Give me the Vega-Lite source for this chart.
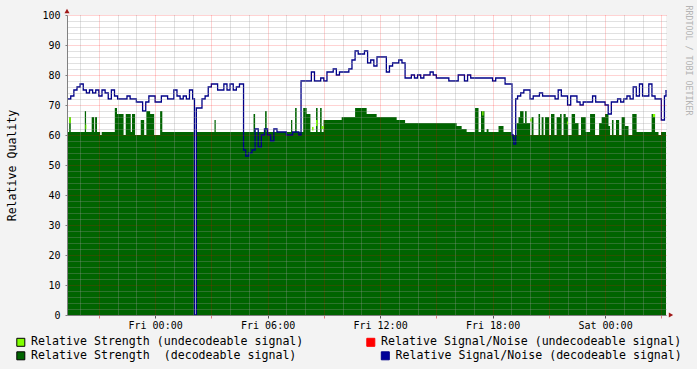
{
  "$schema": "https://vega.github.io/schema/vega-lite/v6.json",
  "width": 599,
  "height": 300,
  "autosize": {"type": "none"},
  "padding": {"left": 67, "top": 15, "right": 31, "bottom": 54},
  "background": "#f3f3f3",
  "datasets": {
    "strength": [
      {"t": "2009-01-01T19:18", "s": 61}, {"t": "2009-01-01T19:25", "s": 66}, {"t": "2009-01-01T19:30", "s": 61},
      {"t": "2009-01-01T20:15", "s": 68}, {"t": "2009-01-01T20:19", "s": 61}, {"t": "2009-01-01T20:37", "s": 66},
      {"t": "2009-01-01T20:45", "s": 61}, {"t": "2009-01-01T20:48", "s": 66}, {"t": "2009-01-01T20:54", "s": 61},
      {"t": "2009-01-01T21:04", "s": 60}, {"t": "2009-01-01T21:09", "s": 61}, {"t": "2009-01-01T21:51", "s": 69},
      {"t": "2009-01-01T21:58", "s": 67}, {"t": "2009-01-01T22:19", "s": 60}, {"t": "2009-01-01T22:26", "s": 67},
      {"t": "2009-01-01T22:42", "s": 61}, {"t": "2009-01-01T22:46", "s": 67}, {"t": "2009-01-01T22:56", "s": 60},
      {"t": "2009-01-01T23:14", "s": 65}, {"t": "2009-01-01T23:25", "s": 60}, {"t": "2009-01-01T23:32", "s": 68},
      {"t": "2009-01-01T23:44", "s": 67}, {"t": "2009-01-01T23:57", "s": 60}, {"t": "2009-01-02T00:16", "s": 68},
      {"t": "2009-01-02T00:23", "s": 61}, {"t": "2009-01-02T02:07", "s": 0}, {"t": "2009-01-02T02:12", "s": 61},
      {"t": "2009-01-02T03:10", "s": 65}, {"t": "2009-01-02T03:14", "s": 61}, {"t": "2009-01-02T05:15", "s": 67},
      {"t": "2009-01-02T05:20", "s": 61}, {"t": "2009-01-02T05:52", "s": 68}, {"t": "2009-01-02T05:57", "s": 61},
      {"t": "2009-01-02T07:15", "s": 65}, {"t": "2009-01-02T07:19", "s": 61}, {"t": "2009-01-02T07:28", "s": 69},
      {"t": "2009-01-02T07:33", "s": 61}, {"t": "2009-01-02T07:54", "s": 69}, {"t": "2009-01-02T08:05", "s": 67},
      {"t": "2009-01-02T08:17", "s": 61}, {"t": "2009-01-02T08:35", "s": 69}, {"t": "2009-01-02T08:40", "s": 61},
      {"t": "2009-01-02T08:48", "s": 69}, {"t": "2009-01-02T08:53", "s": 61}, {"t": "2009-01-02T08:59", "s": 65},
      {"t": "2009-01-02T09:57", "s": 66}, {"t": "2009-01-02T10:40", "s": 69}, {"t": "2009-01-02T11:17", "s": 67},
      {"t": "2009-01-02T11:49", "s": 66}, {"t": "2009-01-02T12:53", "s": 65}, {"t": "2009-01-02T13:20", "s": 64},
      {"t": "2009-01-02T16:05", "s": 63}, {"t": "2009-01-02T16:21", "s": 62}, {"t": "2009-01-02T16:37", "s": 61},
      {"t": "2009-01-02T17:04", "s": 69}, {"t": "2009-01-02T17:15", "s": 61}, {"t": "2009-01-02T17:23", "s": 68},
      {"t": "2009-01-02T17:34", "s": 61}, {"t": "2009-01-02T17:41", "s": 62}, {"t": "2009-01-02T17:47", "s": 61},
      {"t": "2009-01-02T18:19", "s": 63}, {"t": "2009-01-02T18:35", "s": 61}, {"t": "2009-01-02T19:01", "s": 60},
      {"t": "2009-01-02T19:17", "s": 64}, {"t": "2009-01-02T19:23", "s": 66}, {"t": "2009-01-02T19:28", "s": 68},
      {"t": "2009-01-02T19:39", "s": 64}, {"t": "2009-01-02T19:44", "s": 68}, {"t": "2009-01-02T19:49", "s": 64},
      {"t": "2009-01-02T20:00", "s": 60}, {"t": "2009-01-02T20:05", "s": 66}, {"t": "2009-01-02T20:11", "s": 60},
      {"t": "2009-01-02T20:27", "s": 67}, {"t": "2009-01-02T20:32", "s": 60}, {"t": "2009-01-02T20:37", "s": 66},
      {"t": "2009-01-02T20:43", "s": 60}, {"t": "2009-01-02T20:48", "s": 66}, {"t": "2009-01-02T21:01", "s": 60},
      {"t": "2009-01-02T21:07", "s": 67}, {"t": "2009-01-02T21:18", "s": 60}, {"t": "2009-01-02T21:25", "s": 66},
      {"t": "2009-01-02T21:36", "s": 67}, {"t": "2009-01-02T21:41", "s": 60}, {"t": "2009-01-02T21:47", "s": 67},
      {"t": "2009-01-02T21:54", "s": 66}, {"t": "2009-01-02T22:01", "s": 60}, {"t": "2009-01-02T22:13", "s": 67},
      {"t": "2009-01-02T22:24", "s": 64}, {"t": "2009-01-02T22:35", "s": 60}, {"t": "2009-01-02T22:43", "s": 66},
      {"t": "2009-01-02T22:58", "s": 61}, {"t": "2009-01-02T23:12", "s": 67}, {"t": "2009-01-02T23:28", "s": 60},
      {"t": "2009-01-02T23:41", "s": 64}, {"t": "2009-01-02T23:49", "s": 66}, {"t": "2009-01-03T00:00", "s": 67},
      {"t": "2009-01-03T00:11", "s": 63}, {"t": "2009-01-03T00:16", "s": 60}, {"t": "2009-01-03T00:22", "s": 65},
      {"t": "2009-01-03T00:27", "s": 60}, {"t": "2009-01-03T00:35", "s": 65}, {"t": "2009-01-03T00:45", "s": 60},
      {"t": "2009-01-03T00:53", "s": 66}, {"t": "2009-01-03T01:04", "s": 63}, {"t": "2009-01-03T01:15", "s": 60},
      {"t": "2009-01-03T01:27", "s": 67}, {"t": "2009-01-03T01:41", "s": 61}, {"t": "2009-01-03T02:29", "s": 67},
      {"t": "2009-01-03T02:40", "s": 61}, {"t": "2009-01-03T02:51", "s": 60}, {"t": "2009-01-03T02:59", "s": 61},
      {"t": "2009-01-03T03:15", "s": 61}
    ],
    "undec": [
      {"t": "2009-01-01T19:25", "t2": "2009-01-01T19:30", "lo": 64, "hi": 66},
      {"t": "2009-01-01T20:17", "t2": "2009-01-01T20:20", "lo": 62, "hi": 63.5},
      {"t": "2009-01-02T08:22", "t2": "2009-01-02T08:27", "lo": 61.5, "hi": 62.7},
      {"t": "2009-01-02T08:35", "t2": "2009-01-02T08:40", "lo": 63, "hi": 65},
      {"t": "2009-01-02T08:53", "t2": "2009-01-02T08:59", "lo": 62, "hi": 63},
      {"t": "2009-01-02T17:27", "t2": "2009-01-02T17:31", "lo": 66.5, "hi": 68},
      {"t": "2009-01-02T20:00", "t2": "2009-01-02T20:05", "lo": 64.5, "hi": 65.5},
      {"t": "2009-01-02T21:58", "t2": "2009-01-02T22:01", "lo": 63.5, "hi": 64.5},
      {"t": "2009-01-03T02:33", "t2": "2009-01-03T02:40", "lo": 66, "hi": 67}
    ],
    "sn": [
      {"t": "2009-01-01T19:18", "n": 72}, {"t": "2009-01-01T19:30", "n": 73}, {"t": "2009-01-01T19:40", "n": 75},
      {"t": "2009-01-01T19:50", "n": 76}, {"t": "2009-01-01T20:00", "n": 77}, {"t": "2009-01-01T20:10", "n": 75},
      {"t": "2009-01-01T20:20", "n": 74}, {"t": "2009-01-01T20:30", "n": 75}, {"t": "2009-01-01T20:40", "n": 74},
      {"t": "2009-01-01T20:50", "n": 75}, {"t": "2009-01-01T21:00", "n": 73}, {"t": "2009-01-01T21:10", "n": 75},
      {"t": "2009-01-01T21:20", "n": 74}, {"t": "2009-01-01T21:30", "n": 72}, {"t": "2009-01-01T21:40", "n": 75},
      {"t": "2009-01-01T21:50", "n": 73}, {"t": "2009-01-01T22:00", "n": 72}, {"t": "2009-01-01T22:10", "n": 72},
      {"t": "2009-01-01T22:20", "n": 72}, {"t": "2009-01-01T22:30", "n": 73}, {"t": "2009-01-01T22:40", "n": 72},
      {"t": "2009-01-01T22:50", "n": 72}, {"t": "2009-01-01T23:00", "n": 71}, {"t": "2009-01-01T23:10", "n": 71},
      {"t": "2009-01-01T23:20", "n": 68}, {"t": "2009-01-01T23:30", "n": 71}, {"t": "2009-01-01T23:40", "n": 73},
      {"t": "2009-01-01T23:50", "n": 73}, {"t": "2009-01-02T00:00", "n": 71}, {"t": "2009-01-02T00:10", "n": 71},
      {"t": "2009-01-02T00:20", "n": 73}, {"t": "2009-01-02T00:30", "n": 73}, {"t": "2009-01-02T00:40", "n": 72},
      {"t": "2009-01-02T00:50", "n": 72}, {"t": "2009-01-02T01:00", "n": 75}, {"t": "2009-01-02T01:10", "n": 73},
      {"t": "2009-01-02T01:20", "n": 72}, {"t": "2009-01-02T01:30", "n": 73}, {"t": "2009-01-02T01:40", "n": 72},
      {"t": "2009-01-02T01:50", "n": 75}, {"t": "2009-01-02T02:00", "n": 72}, {"t": "2009-01-02T02:06", "n": 0},
      {"t": "2009-01-02T02:12", "n": 69}, {"t": "2009-01-02T02:20", "n": 69}, {"t": "2009-01-02T02:30", "n": 72},
      {"t": "2009-01-02T02:40", "n": 73}, {"t": "2009-01-02T02:50", "n": 76}, {"t": "2009-01-02T03:00", "n": 77},
      {"t": "2009-01-02T03:10", "n": 77}, {"t": "2009-01-02T03:20", "n": 75}, {"t": "2009-01-02T03:30", "n": 75},
      {"t": "2009-01-02T03:40", "n": 77}, {"t": "2009-01-02T03:50", "n": 75}, {"t": "2009-01-02T04:00", "n": 77},
      {"t": "2009-01-02T04:10", "n": 75}, {"t": "2009-01-02T04:20", "n": 76}, {"t": "2009-01-02T04:30", "n": 77},
      {"t": "2009-01-02T04:40", "n": 77}, {"t": "2009-01-02T04:43", "n": 55}, {"t": "2009-01-02T04:50", "n": 53},
      {"t": "2009-01-02T05:00", "n": 54}, {"t": "2009-01-02T05:10", "n": 55}, {"t": "2009-01-02T05:20", "n": 62},
      {"t": "2009-01-02T05:30", "n": 56}, {"t": "2009-01-02T05:40", "n": 60}, {"t": "2009-01-02T05:50", "n": 62},
      {"t": "2009-01-02T06:00", "n": 60}, {"t": "2009-01-02T06:10", "n": 58}, {"t": "2009-01-02T06:20", "n": 62},
      {"t": "2009-01-02T06:30", "n": 61}, {"t": "2009-01-02T06:40", "n": 61}, {"t": "2009-01-02T06:50", "n": 61},
      {"t": "2009-01-02T07:00", "n": 60}, {"t": "2009-01-02T07:10", "n": 60}, {"t": "2009-01-02T07:20", "n": 61},
      {"t": "2009-01-02T07:30", "n": 61}, {"t": "2009-01-02T07:40", "n": 60}, {"t": "2009-01-02T07:47", "n": 78},
      {"t": "2009-01-02T07:50", "n": 78}, {"t": "2009-01-02T08:00", "n": 78}, {"t": "2009-01-02T08:10", "n": 78},
      {"t": "2009-01-02T08:20", "n": 81}, {"t": "2009-01-02T08:30", "n": 78}, {"t": "2009-01-02T08:40", "n": 78},
      {"t": "2009-01-02T08:50", "n": 79}, {"t": "2009-01-02T09:00", "n": 78}, {"t": "2009-01-02T09:10", "n": 81},
      {"t": "2009-01-02T09:20", "n": 81}, {"t": "2009-01-02T09:30", "n": 82}, {"t": "2009-01-02T09:40", "n": 80},
      {"t": "2009-01-02T09:50", "n": 81}, {"t": "2009-01-02T10:00", "n": 81}, {"t": "2009-01-02T10:10", "n": 81},
      {"t": "2009-01-02T10:20", "n": 82}, {"t": "2009-01-02T10:30", "n": 85}, {"t": "2009-01-02T10:40", "n": 88},
      {"t": "2009-01-02T10:50", "n": 87}, {"t": "2009-01-02T11:00", "n": 87}, {"t": "2009-01-02T11:10", "n": 88},
      {"t": "2009-01-02T11:20", "n": 84}, {"t": "2009-01-02T11:30", "n": 85}, {"t": "2009-01-02T11:40", "n": 83},
      {"t": "2009-01-02T11:50", "n": 86}, {"t": "2009-01-02T12:00", "n": 86}, {"t": "2009-01-02T12:10", "n": 86},
      {"t": "2009-01-02T12:20", "n": 81}, {"t": "2009-01-02T12:30", "n": 83}, {"t": "2009-01-02T12:40", "n": 84},
      {"t": "2009-01-02T12:50", "n": 84}, {"t": "2009-01-02T13:00", "n": 85}, {"t": "2009-01-02T13:10", "n": 84},
      {"t": "2009-01-02T13:20", "n": 79}, {"t": "2009-01-02T13:30", "n": 79}, {"t": "2009-01-02T13:40", "n": 80},
      {"t": "2009-01-02T13:50", "n": 79}, {"t": "2009-01-02T14:00", "n": 80}, {"t": "2009-01-02T14:10", "n": 79},
      {"t": "2009-01-02T14:20", "n": 80}, {"t": "2009-01-02T14:30", "n": 80}, {"t": "2009-01-02T14:40", "n": 81},
      {"t": "2009-01-02T14:50", "n": 80}, {"t": "2009-01-02T15:00", "n": 79}, {"t": "2009-01-02T15:10", "n": 79},
      {"t": "2009-01-02T15:20", "n": 79}, {"t": "2009-01-02T15:30", "n": 79}, {"t": "2009-01-02T15:40", "n": 78},
      {"t": "2009-01-02T15:50", "n": 78}, {"t": "2009-01-02T16:00", "n": 78}, {"t": "2009-01-02T16:10", "n": 80},
      {"t": "2009-01-02T16:20", "n": 80}, {"t": "2009-01-02T16:30", "n": 78}, {"t": "2009-01-02T16:40", "n": 80},
      {"t": "2009-01-02T16:50", "n": 79}, {"t": "2009-01-02T17:00", "n": 79}, {"t": "2009-01-02T17:10", "n": 79},
      {"t": "2009-01-02T17:20", "n": 79}, {"t": "2009-01-02T17:30", "n": 79}, {"t": "2009-01-02T17:40", "n": 79},
      {"t": "2009-01-02T17:50", "n": 79}, {"t": "2009-01-02T18:00", "n": 78}, {"t": "2009-01-02T18:10", "n": 79},
      {"t": "2009-01-02T18:20", "n": 79}, {"t": "2009-01-02T18:30", "n": 79}, {"t": "2009-01-02T18:40", "n": 77},
      {"t": "2009-01-02T18:50", "n": 77}, {"t": "2009-01-02T19:00", "n": 77}, {"t": "2009-01-02T19:02", "n": 60},
      {"t": "2009-01-02T19:06", "n": 59}, {"t": "2009-01-02T19:08", "n": 57}, {"t": "2009-01-02T19:14", "n": 72},
      {"t": "2009-01-02T19:20", "n": 73}, {"t": "2009-01-02T19:30", "n": 74}, {"t": "2009-01-02T19:40", "n": 75},
      {"t": "2009-01-02T19:50", "n": 75}, {"t": "2009-01-02T20:00", "n": 72}, {"t": "2009-01-02T20:10", "n": 73},
      {"t": "2009-01-02T20:20", "n": 73}, {"t": "2009-01-02T20:30", "n": 74}, {"t": "2009-01-02T20:40", "n": 73},
      {"t": "2009-01-02T20:50", "n": 73}, {"t": "2009-01-02T21:00", "n": 73}, {"t": "2009-01-02T21:10", "n": 73},
      {"t": "2009-01-02T21:20", "n": 72}, {"t": "2009-01-02T21:30", "n": 75}, {"t": "2009-01-02T21:40", "n": 73},
      {"t": "2009-01-02T21:50", "n": 73}, {"t": "2009-01-02T22:00", "n": 70}, {"t": "2009-01-02T22:10", "n": 73},
      {"t": "2009-01-02T22:20", "n": 73}, {"t": "2009-01-02T22:30", "n": 71}, {"t": "2009-01-02T22:40", "n": 70},
      {"t": "2009-01-02T22:50", "n": 71}, {"t": "2009-01-02T23:00", "n": 71}, {"t": "2009-01-02T23:10", "n": 71},
      {"t": "2009-01-02T23:20", "n": 73}, {"t": "2009-01-02T23:30", "n": 71}, {"t": "2009-01-02T23:40", "n": 71},
      {"t": "2009-01-02T23:50", "n": 71}, {"t": "2009-01-03T00:00", "n": 70}, {"t": "2009-01-03T00:10", "n": 67},
      {"t": "2009-01-03T00:20", "n": 71}, {"t": "2009-01-03T00:30", "n": 71}, {"t": "2009-01-03T00:40", "n": 72},
      {"t": "2009-01-03T00:50", "n": 71}, {"t": "2009-01-03T01:00", "n": 72}, {"t": "2009-01-03T01:10", "n": 73},
      {"t": "2009-01-03T01:20", "n": 72}, {"t": "2009-01-03T01:30", "n": 76}, {"t": "2009-01-03T01:40", "n": 73},
      {"t": "2009-01-03T01:50", "n": 77}, {"t": "2009-01-03T02:00", "n": 73}, {"t": "2009-01-03T02:10", "n": 73},
      {"t": "2009-01-03T02:20", "n": 77}, {"t": "2009-01-03T02:30", "n": 73}, {"t": "2009-01-03T02:40", "n": 72},
      {"t": "2009-01-03T02:50", "n": 72}, {"t": "2009-01-03T03:00", "n": 65}, {"t": "2009-01-03T03:10", "n": 73},
      {"t": "2009-01-03T03:15", "n": 75}
    ]
  },
  "layer": [
    {
      "data": {"name": "strength"},
      "mark": {"type": "area", "interpolate": "step-after"},
      "encoding": {
        "x": {
          "field": "t", "type": "temporal",
          "scale": {"domain": [{"year": 2009, "month": 1, "date": 1, "hours": 19, "minutes": 18}, {"year": 2009, "month": 1, "date": 3, "hours": 3, "minutes": 15}], "nice": false},
          "axis": {
            "orient": "bottom",
            "values": [
              {"year": 2009, "month": 1, "date": 1, "hours": 20}, {"year": 2009, "month": 1, "date": 1, "hours": 22}, {"year": 2009, "month": 1, "date": 1, "hours": 23},
              {"year": 2009, "month": 1, "date": 2, "hours": 1}, {"year": 2009, "month": 1, "date": 2, "hours": 2}, {"year": 2009, "month": 1, "date": 2, "hours": 4},
              {"year": 2009, "month": 1, "date": 2, "hours": 5}, {"year": 2009, "month": 1, "date": 2, "hours": 7}, {"year": 2009, "month": 1, "date": 2, "hours": 8},
              {"year": 2009, "month": 1, "date": 2, "hours": 10}, {"year": 2009, "month": 1, "date": 2, "hours": 11}, {"year": 2009, "month": 1, "date": 2, "hours": 13},
              {"year": 2009, "month": 1, "date": 2, "hours": 14}, {"year": 2009, "month": 1, "date": 2, "hours": 16}, {"year": 2009, "month": 1, "date": 2, "hours": 17},
              {"year": 2009, "month": 1, "date": 2, "hours": 19}, {"year": 2009, "month": 1, "date": 2, "hours": 20}, {"year": 2009, "month": 1, "date": 2, "hours": 22},
              {"year": 2009, "month": 1, "date": 2, "hours": 23}, {"year": 2009, "month": 1, "date": 3, "hours": 1}, {"year": 2009, "month": 1, "date": 3, "hours": 2}
            ],
            "grid": true, "gridColor": "#999999", "gridOpacity": 0.6, "gridDash": [1, 1],
            "labels": false, "ticks": false, "domain": false, "title": null, "zindex": 1
          }
        },
        "y": {
          "field": "s", "type": "quantitative",
          "scale": {"domain": [0, 100], "nice": false},
          "axis": {
            "orient": "left",
            "values": [2, 4, 6, 8, 12, 14, 16, 18, 22, 24, 26, 28, 32, 34, 36, 38, 42, 44, 46, 48, 52, 54, 56, 58, 62, 64, 66, 68, 72, 74, 76, 78, 82, 84, 86, 88, 92, 94, 96, 98],
            "grid": true, "gridColor": "#999999", "gridOpacity": 0.6, "gridDash": [1, 1],
            "labels": false, "ticks": false, "domain": false, "title": null, "zindex": 1
          }
        },
        "color": {
          "datum": "Relative Strength\u00a0 (decodeable signal)",
          "scale": {"range": ["#006400"]},
          "legend": {"legendX": -52, "legendY": 335,
            "encode": {"symbols": {"update": {"fill": {"value": "#006400"}, "stroke": {"value": "black"}, "strokeWidth": {"value": 1}, "opacity": {"value": 1}}}}}
        }
      }
    },
    {
      "data": {"name": "undec"},
      "mark": {"type": "rect"},
      "encoding": {
        "x": {
          "field": "t", "type": "temporal",
          "scale": {"domain": [{"year": 2009, "month": 1, "date": 1, "hours": 19, "minutes": 18}, {"year": 2009, "month": 1, "date": 3, "hours": 3, "minutes": 15}], "nice": false},
          "axis": {
            "orient": "bottom",
            "values": [
              {"year": 2009, "month": 1, "date": 1, "hours": 21}, {"year": 2009, "month": 1, "date": 2, "hours": 0}, {"year": 2009, "month": 1, "date": 2, "hours": 3},
              {"year": 2009, "month": 1, "date": 2, "hours": 6}, {"year": 2009, "month": 1, "date": 2, "hours": 9}, {"year": 2009, "month": 1, "date": 2, "hours": 12},
              {"year": 2009, "month": 1, "date": 2, "hours": 15}, {"year": 2009, "month": 1, "date": 2, "hours": 18}, {"year": 2009, "month": 1, "date": 2, "hours": 21},
              {"year": 2009, "month": 1, "date": 3, "hours": 0}, {"year": 2009, "month": 1, "date": 3, "hours": 3}
            ],
            "format": "%a %H:%M", "formatType": "time",
            "labelExpr": "hours(datum.value) % 6 == 0 ? datum.label : ''",
            "labelFlush": false, "labelOverlap": false, "labelPadding": 2,
            "grid": true, "gridColor": "#ff0000", "gridOpacity": 0.35, "gridDash": [1, 1],
            "ticks": true, "tickSize": 3,
            "tickColor": {"condition": {"test": "hours(datum.value) % 6 == 0", "value": "#555555"}, "value": "#e08080"},
            "domain": true, "domainColor": "#808080", "title": null, "zindex": 1
          }
        },
        "x2": {"field": "t2"},
        "y": {
          "field": "lo", "type": "quantitative",
          "scale": {"domain": [0, 100], "nice": false},
          "axis": {
            "orient": "left",
            "values": [0, 10, 20, 30, 40, 50, 60, 70, 80, 90, 100],
            "grid": true, "gridColor": "#ff0000", "gridOpacity": 0.35, "gridDash": [1, 1],
            "ticks": true, "tickSize": 2, "tickColor": "#808080", "labelPadding": 5,
            "domain": true, "domainColor": "#808080",
            "title": "Relative Quality", "titleFont": "DejaVu Sans Mono", "titleFontSize": 11.6, "titleFontWeight": "normal", "titleColor": "black",
            "titleAngle": 270, "titleX": -52, "titleY": 150, "titleAlign": "center", "titleBaseline": "alphabetic",
            "zindex": 1
          }
        },
        "y2": {"field": "hi"},
        "color": {
          "datum": "Relative Strength (undecodeable signal)",
          "scale": {"range": ["#80ff00"]},
          "legend": {"legendX": -52, "legendY": 321.5,
            "encode": {"symbols": {"update": {"fill": {"value": "#80ff00"}, "stroke": {"value": "black"}, "strokeWidth": {"value": 1}, "opacity": {"value": 1}}}}}
        }
      }
    },
    {
      "data": {"name": "sn"},
      "mark": {"type": "line", "interpolate": "step-after", "strokeWidth": 1.3},
      "encoding": {
        "x": {"field": "t", "type": "temporal", "axis": null,
          "scale": {"domain": [{"year": 2009, "month": 1, "date": 1, "hours": 19, "minutes": 18}, {"year": 2009, "month": 1, "date": 3, "hours": 3, "minutes": 15}], "nice": false}},
        "y": {"field": "n", "type": "quantitative",
          "scale": {"domain": [0, 100], "nice": false},
          "axis": {
            "orient": "right", "labels": false, "ticks": false, "domain": false, "grid": false,
            "title": "RRDTOOL / TOBI OETIKER", "titleFont": "DejaVu Sans Mono", "titleFontSize": 8.3, "titleFontWeight": "normal", "titleColor": "#b4b4b4",
            "titleAngle": 90, "titleX": 19, "titleY": -10, "titleAlign": "left", "titleBaseline": "alphabetic"
          }
        },
        "color": {
          "datum": "Relative Signal/Noise (decodeable signal)",
          "scale": {"range": ["#000088"]},
          "legend": {"legendX": 312.5, "legendY": 335,
            "encode": {"symbols": {"update": {"fill": {"value": "#000099"}, "stroke": {"value": "black"}, "strokeWidth": {"value": 1}, "opacity": {"value": 1}}}}}
        }
      }
    },
    {
      "data": {"values": []},
      "mark": {"type": "line", "interpolate": "step-after", "strokeWidth": 1.2},
      "encoding": {
        "x": {"field": "t", "type": "temporal", "axis": null},
        "y": {"field": "n", "type": "quantitative", "axis": null},
        "color": {
          "datum": "Relative Signal/Noise (undecodeable signal)",
          "scale": {"range": ["#ff0000"]},
          "legend": {"legendX": 298, "legendY": 321.5,
            "encode": {"symbols": {"update": {"fill": {"value": "#ff0000"}, "stroke": {"value": "black"}, "strokeWidth": {"value": 1}, "opacity": {"value": 1}}}}}
        }
      }
    },
    {
      "data": {"values": [{}]},
      "mark": {"type": "point", "shape": "triangle-up", "filled": true, "size": 25, "color": "#a01818", "opacity": 1, "yOffset": -4},
      "encoding": {
        "x": {"datum": {"year": 2009, "month": 1, "date": 1, "hours": 19, "minutes": 18}, "type": "temporal", "axis": null},
        "y": {"datum": 100, "type": "quantitative", "axis": null}
      }
    },
    {
      "data": {"values": [{}]},
      "mark": {"type": "point", "shape": "triangle-right", "filled": true, "size": 25, "color": "#a01818", "opacity": 1, "xOffset": 5},
      "encoding": {
        "x": {"datum": {"year": 2009, "month": 1, "date": 3, "hours": 3, "minutes": 15}, "type": "temporal", "axis": null},
        "y": {"datum": 0, "type": "quantitative", "axis": null}
      }
    }
  ],
  "resolve": {
    "scale": {"color": "independent"},
    "axis": {"x": "independent", "y": "independent"},
    "legend": {"color": "independent"}
  },
  "config": {
    "view": {"stroke": null, "fill": "white"},
    "font": "DejaVu Sans Mono",
    "axis": {"labelFont": "DejaVu Sans Mono", "labelFontSize": 10, "labelColor": "black", "titleFont": "DejaVu Sans Mono"},
    "legend": {
      "orient": "none", "title": null, "padding": 0,
      "symbolType": "square", "symbolSize": 64, "symbolStrokeWidth": 1, "symbolStrokeColor": "black",
      "labelFont": "DejaVu Sans Mono", "labelFontSize": 11.6, "labelColor": "black", "labelLimit": 600, "labelOffset": 4.5
    }
  }
}
